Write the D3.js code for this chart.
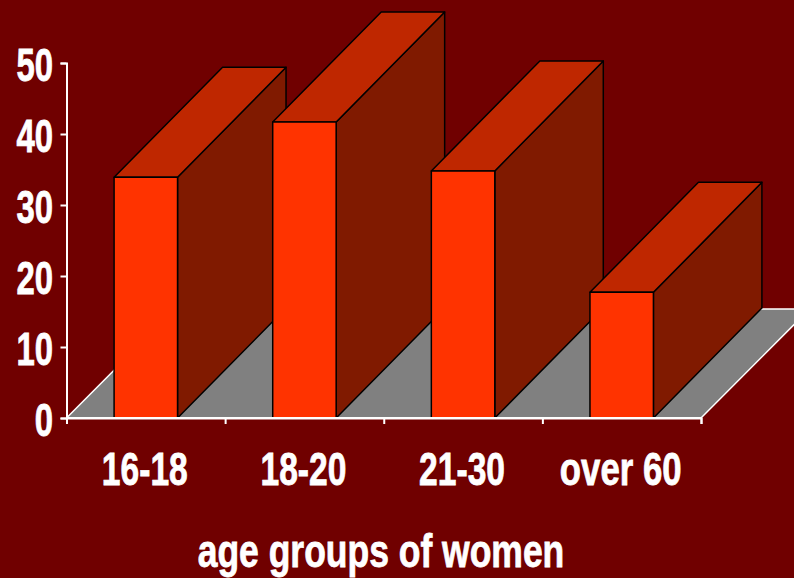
<!DOCTYPE html>
<html>
<head>
<meta charset="utf-8">
<script src="https://cdn.jsdelivr.net/npm/d3@7"></script>
<style>
  html, body { margin: 0; padding: 0; background: #700000; overflow: hidden; }
  text { font-family: "Liberation Sans", Arial, sans-serif; font-weight: bold; fill: #fff; stroke: #fff; stroke-width: 0.8; }
</style>
</head>
<body>
<svg width="794" height="578"></svg>
<script>
const categories = ["16-18", "18-20", "21-30", "over 60"];
const values = [33.9, 41.7, 34.8, 17.7];
const yTicks = [0, 10, 20, 30, 40, 50];
const axisTitle = "age groups of women";

const svg = d3.select("svg");
const fontSize = 47;

// Oblique depth of the 3D box
const depthX = 108.5, depthY = 110;

const x = d3.scaleBand().domain(categories).range([66.5, 701]).paddingInner(0.6).paddingOuter(0.3);
const y = d3.scaleLinear().domain([0, 50]).range([418, 63]);

const line = d3.line();

// Floor
const floorBack = y(0) - 109;
svg.append("path")
  .attr("d", line([[66.5, y(0)], [701, y(0)], [701 + depthX, floorBack], [66.5 + depthX, floorBack]]) + "Z")
  .attr("fill", "#808080");

svg.append("path")
  .attr("d", line([[66.5, y(0)], [66.5 + depthX, floorBack], [701 + depthX, floorBack], [701, y(0)]]))
  .attr("fill", "none")
  .attr("stroke", "#fff")
  .attr("stroke-width", 1.5);

// Axes
const yAxis = d3.axisLeft(y).tickValues(yTicks).tickSize(6).tickFormat(d3.format("d"));
const xTickScale = d3.scaleLinear().domain([0, 4]).range([66.5, 701]);
const xAxis = d3.axisBottom(xTickScale).ticks(4).tickSize(6).tickFormat("");

const gy = svg.append("g").attr("transform", "translate(66.5,0)").call(yAxis);
const gx = svg.append("g").attr("transform", `translate(0,${y(0)})`).call(xAxis);

[gy, gx].forEach((g) => {
  g.selectAll("path, line").attr("stroke", "#fff").attr("stroke-width", 2);
});

const yLabelSqueeze = 0.7;
gy.selectAll("text")
  .attr("x", -13.5 / yLabelSqueeze)
  .attr("dy", "0.37em")
  .attr("font-size", fontSize)
  .attr("fill", "#fff")
  .attr("font-family", null)
  .attr("transform", `scale(${yLabelSqueeze},1)`);

// Bars, drawn left to right so each covers the side of the one before
const bars = svg.append("g")
  .selectAll("g")
  .data(categories.map((c, i) => ({ c, v: values[i] })))
  .enter()
  .append("g")
  .attr("stroke", "#000")
  .attr("stroke-width", 1.5)
  .attr("stroke-linejoin", "round");

bars.append("path")
  .attr("fill", "#801a00")
  .attr("d", (d) => {
    const r = x(d.c) + x.bandwidth();
    return line([[r, y(0)], [r + depthX, y(0) - depthY], [r + depthX, y(d.v) - depthY], [r, y(d.v)]]) + "Z";
  });

bars.append("path")
  .attr("fill", "#bf2700")
  .attr("d", (d) => {
    const l = x(d.c), r = l + x.bandwidth();
    return line([[l, y(d.v)], [l + depthX, y(d.v) - depthY], [r + depthX, y(d.v) - depthY], [r, y(d.v)]]) + "Z";
  });

bars.append("rect")
  .attr("fill", "#ff3300")
  .attr("x", (d) => x(d.c))
  .attr("y", (d) => y(d.v))
  .attr("width", x.bandwidth())
  .attr("height", (d) => y(0) - y(d.v));

// Bottom edge stays white across the bar feet
svg.append("line")
  .attr("x1", 66.5).attr("x2", 701)
  .attr("y1", y(0)).attr("y2", y(0))
  .attr("stroke", "#fff")
  .attr("stroke-width", 2);

// Category labels
svg.append("g")
  .selectAll("text")
  .data(categories)
  .enter()
  .append("text")
  .attr("text-anchor", "middle")
  .attr("font-size", fontSize)
  .attr("transform", (d) => `translate(${x(d) + x.bandwidth() / 2 - 1},485) scale(${d === "over 60" ? 0.74 : 0.715},1)`)
  .text((d) => d);

// Axis title
svg.append("text")
  .attr("text-anchor", "middle")
  .attr("font-size", fontSize)
  .attr("transform", "translate(381,567) scale(0.755,1)")
  .text(axisTitle);
</script>
</body>
</html>
